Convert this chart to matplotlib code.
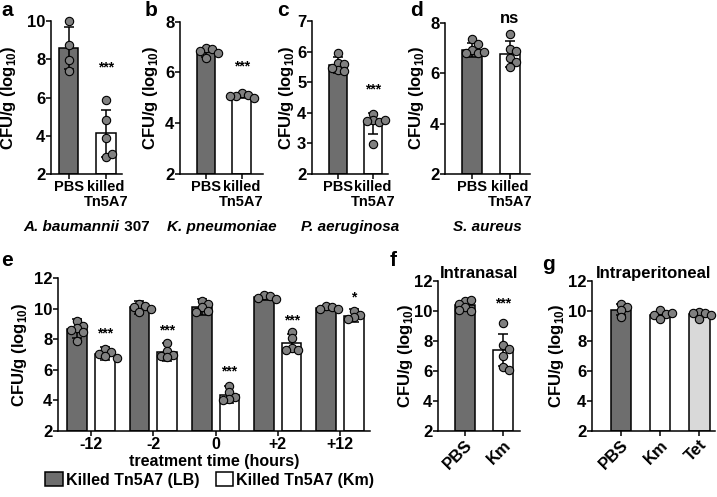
import matplotlib
matplotlib.use('Agg')
import matplotlib.pyplot as plt
from matplotlib.patches import Patch
import numpy as np

# ---- data ----
pair_labels = ['PBS', 'killed\nTn5A7']
species = ['A. baumannii', 'K. pneumoniae', 'P. aeruginosa', 'S. aureus']
strains = [' 307', '', '', '']

a_mean = [8.58, 4.13]
a_sd = [1.10, 1.22]
a_pts = [[10.0, 8.75, 7.97, 7.39], [5.87, 4.83, 3.87, 2.91, 3.03]]

b_mean = [6.79, 5.08]
b_sd = [0.18, 0.08]
b_pts = [[6.95, 6.9, 6.85, 6.75, 6.55], [5.18, 5.12, 5.05, 5.0, 5.08]]

c_mean = [5.56, 3.65]
c_sd = [0.25, 0.35]
c_pts = [[5.94, 5.62, 5.6, 5.4, 5.38, 5.45], [3.95, 3.75, 3.7, 3.75, 3.72, 2.98]]

d_mean = [6.92, 6.75]
d_sd = [0.27, 0.52]
d_pts = [[7.35, 7.15, 6.9, 6.8, 6.78, 6.82], [7.55, 6.95, 6.88, 6.6, 6.45, 6.25]]

pair_sig = ['***', '***', '***', 'ns']

time_labels = ['-12', '-2', '0', '+2', '+12']
e_lb_mean = [8.67, 10.09, 10.10, 10.74, 10.06]
e_lb_sd = [0.62, 0.43, 0.50, 0.15, 0.12]
e_km_mean = [7.06, 7.15, 4.37, 7.74, 9.54]
e_km_sd = [0.42, 0.60, 0.55, 0.60, 0.42]
e_lb_pts = [[9.2, 8.85, 8.7, 8.6, 8.45, 7.9], [10.3, 10.2, 10.1, 10.0, 9.75],
            [10.5, 10.3, 10.1, 9.85, 9.75], [10.9, 10.8, 10.7, 10.6],
            [10.2, 10.1, 10.0, 9.95]]
e_km_pts = [[7.35, 7.15, 7.05, 6.9, 6.8], [7.75, 7.25, 7.0, 6.9, 6.85],
            [4.95, 4.55, 4.25, 4.1, 4.0], [8.5, 8.1, 7.45, 7.3, 7.3],
            [9.85, 9.6, 9.45, 9.35]]
e_sig = ['***', '***', '***', '***', '*']

f_labels = ['PBS', 'Km']
f_mean = [10.37, 7.40]
f_sd = [0.25, 1.08]
f_pts = [[10.7, 10.75, 10.45, 10.3, 10.0, 10.05], [9.2, 7.75, 7.45, 7.0, 6.3, 6.1]]

g_labels = ['PBS', 'Km', 'Tet']
g_mean = [10.1, 9.75, 9.8]
g_sd = [0.35, 0.2, 0.18]
g_pts = [[10.5, 10.3, 10.1, 9.6], [10.1, 9.8, 9.75, 9.85, 9.45], [9.95, 9.9, 9.85, 9.5, 9.75]]

# ---- style ----
plt.rcParams['font.family'] = ['Liberation Sans', 'DejaVu Sans']
plt.rcParams['font.weight'] = 'bold'
plt.rcParams['axes.labelweight'] = 'bold'
plt.rcParams['mathtext.fontset'] = 'custom'
plt.rcParams['mathtext.bf'] = 'Liberation Sans:bold'
plt.rcParams['mathtext.rm'] = 'Liberation Sans:bold'

DARK = '#6e6e6e'
DOT = '#808080'
LIGHT = '#d9d9d9'
LW = 1.1
FS = 12
YLAB = 'CFU/g (log$_{\\mathbf{10}}$)'

W, H = 717, 497
fig = plt.figure(figsize=(W / 100, H / 100), dpi=100)


def add_ax(l, t, r, b):
    return fig.add_axes([l / W, 1 - b / H, (r - l) / W, (b - t) / H])


def style_ax(ax, ylim, ticks, ylab_right):
    for s in ['top', 'right']:
        ax.spines[s].set_visible(False)
    for s in ['left', 'bottom']:
        ax.spines[s].set_linewidth(LW)
    ax.set_ylim(*ylim)
    ax.set_yticks(ticks)
    ax.tick_params(direction='out', length=3.5, width=LW, labelsize=FS, pad=0.6)
    ax.tick_params(axis='x', pad=1)
    ax.set_ylabel(YLAB, fontsize=FS)
    pos = ax.get_position()
    ax.yaxis.set_label_coords((ylab_right / W - pos.x0) / pos.width, 0.5)


def swarm(ax, xc, vals, d=7.0):
    # spread points sideways where they overlap (pixel space)
    tr = ax.transData
    placed = []
    out = []
    for v in vals:
        xp, yp = tr.transform((xc, v))
        for k in [0, 1, -1, 2, -2, 3, -3]:
            cx = xp + k * d * 0.85
            if all(np.hypot(cx - px, yp - py) >= d * 0.85 for px, py in placed):
                break
        placed.append((cx, yp))
        out.append(tr.inverted().transform((cx, yp)))
    out = np.array(out)
    ax.plot(out[:, 0], out[:, 1], 'o', ms=6, mfc=DOT, mec='black', mew=0.8,
            zorder=5, clip_on=False)


def bars(ax, xs, means, sds, pts, colors, width):
    ax.bar(xs, np.array(means) - 2, bottom=2, width=width, color=colors,
           edgecolor='black', linewidth=LW, zorder=2)
    ax.errorbar(xs, means, yerr=sds, fmt='none', ecolor='black', elinewidth=LW,
                capsize=3.5, capthick=LW, zorder=4)
    for x, p in zip(xs, pts):
        swarm(ax, x, p)


renderer = fig.canvas.get_renderer()

# ---- panels a-d ----
top_boxes = [(51, 21, 122, 174), (180, 21.5, 263, 174), (312, 21, 388, 174), (445, 22.5, 530, 174)]
top_xlims = [(-0.47, 1.43), (-0.73, 1.6), (-0.74, 1.43), (-0.71, 1.53)]
top_ylims = [(2, 10), (2, 8), (2, 7), (2, 8)]
top_ticks = [[2, 4, 6, 8, 10], [2, 4, 6, 8], [2, 3, 4, 5, 6, 7], [2, 4, 6, 8]]
top_ylab_r = [18, 160, 296, 426]
top_sig_y = [7.55, 6.22, 4.75, 8.15]
top_data = [(a_mean, a_sd, a_pts), (b_mean, b_sd, b_pts), (c_mean, c_sd, c_pts), (d_mean, d_sd, d_pts)]

for i in range(4):
    ax = add_ax(*top_boxes[i])
    ax.set_xlim(*top_xlims[i])
    style_ax(ax, top_ylims[i], top_ticks[i], top_ylab_r[i])
    m, s, p = top_data[i]
    bars(ax, [0, 1], m, s, p, [DARK, 'white'], 0.53)
    ax.set_xticks([0, 1])
    ax.set_xticklabels(pair_labels, fontsize=10.5, linespacing=1.05, va='top')
    ax.text(1, top_sig_y[i], pair_sig[i], ha='center', va='center',
            fontsize=FS if pair_sig[i] == 'ns' else 10, fontweight='bold', clip_on=False)
    # species name in italics, strain number upright, centred together under the axis
    t1 = ax.annotate(species[i], xy=(0.5, 0), xycoords='axes fraction', xytext=(0, -38),
                     textcoords='offset points', ha='left', va='center',
                     fontsize=11, style='italic', fontweight='bold')
    t2 = ax.annotate(strains[i], xy=(0.5, 0), xycoords='axes fraction', xytext=(0, -38),
                     textcoords='offset points', ha='left', va='center',
                     fontsize=11, fontweight='bold')
    w1 = t1.get_window_extent(renderer).width
    w2 = t2.get_window_extent(renderer).width if strains[i] else 0
    half = (w1 + w2) / 2 * 0.72
    t1.set_position((-half, -38))
    t2.set_position((-half + w1 * 0.72, -38))

# ---- panel e ----
ax = add_ax(58, 278, 370, 431)
ax.set_xlim(-0.53, 4.48)
style_ax(ax, (2, 12), [2, 4, 6, 8, 10, 12], 29)
xe = np.arange(len(time_labels))
bars(ax, xe - 0.222, e_lb_mean, e_lb_sd, e_lb_pts, DARK, 0.315)
bars(ax, xe + 0.222, e_km_mean, e_km_sd, e_km_pts, 'white', 0.315)
e_sig_y = [8.4, 8.6, 5.9, 9.2, 10.75]
for x, sgl, y in zip(xe + 0.222, e_sig, e_sig_y):
    ax.text(x, y, sgl, ha='center', va='center', fontsize=10, fontweight='bold')
ax.set_xticks(xe)
ax.set_xticklabels(time_labels, fontsize=11.5)
ax.set_xlabel('treatment time (hours)', fontsize=11.5, labelpad=1)
handles = [Patch(facecolor=DARK, edgecolor='black', linewidth=LW, label='Killed Tn5A7 (LB)'),
           Patch(facecolor='white', edgecolor='black', linewidth=LW, label='Killed Tn5A7 (Km)')]
fig.legend(handles=handles, loc='center', bbox_to_anchor=(210 / W, 1 - 480 / H), ncol=2,
           frameon=False, fontsize=11.5, handlelength=1.1, handleheight=0.9,
           handletextpad=0.2, columnspacing=1.0)

# ---- panel f ----
ax = add_ax(438, 281, 520, 431)
ax.set_xlim(-0.7, 1.43)
style_ax(ax, (2, 12), [2, 4, 6, 8, 10, 12], 415)
bars(ax, [0, 1], f_mean, f_sd, f_pts, [DARK, 'white'], 0.52)
ax.text(1, 10.5, '***', ha='center', va='center', fontsize=10, fontweight='bold')
ax.set_xticks([0, 1])
ax.set_xticklabels(f_labels, fontsize=FS, rotation=45, ha='right', rotation_mode='anchor')
ax.set_title('Intranasal', fontsize=FS, fontweight='bold', pad=2)

# ---- panel g ----
ax = add_ax(592, 281, 715, 431)
ax.set_xlim(-0.74, 2.4)
style_ax(ax, (2, 12), [2, 4, 6, 8, 10, 12], 566)
bars(ax, [0, 1, 2], g_mean, g_sd, g_pts, [DARK, 'white', LIGHT], 0.52)
ax.set_xticks([0, 1, 2])
ax.set_xticklabels(g_labels, fontsize=FS, rotation=45, ha='right', rotation_mode='anchor')
ax.set_title('Intraperitoneal', fontsize=FS, fontweight='bold', pad=2)

# ---- panel letters ----
for lab, x, y in [('a', 1, 1), ('b', 145, 1), ('c', 277, 1), ('d', 410, 1),
                  ('e', 1, 251), ('f', 390, 251), ('g', 542, 255)]:
    fig.text(x / W, 1 - y / H, lab, fontsize=15, fontweight='bold', ha='left', va='top')

fig.savefig('out.png', dpi=100)
